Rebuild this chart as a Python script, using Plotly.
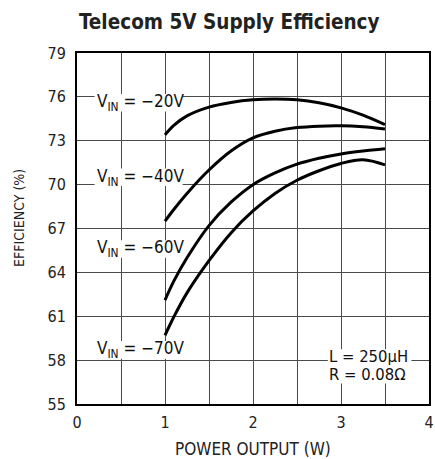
import plotly.graph_objects as go

# Data
power_w = [1.0, 1.1, 1.25, 1.5, 1.75, 2.0, 2.25, 2.5, 2.75, 3.0, 3.25, 3.5]
eff_vin_20 = [73.4, 74.05, 74.7, 75.3, 75.62, 75.8, 75.85, 75.8, 75.6, 75.25, 74.75, 74.1]
eff_vin_40 = [67.5, 68.3, 69.4, 71.0, 72.3, 73.2, 73.65, 73.9, 74.0, 74.02, 73.95, 73.8]
eff_vin_60 = [62.1, 63.4, 65.0, 67.2, 68.8, 70.0, 70.8, 71.4, 71.8, 72.1, 72.3, 72.45]
eff_vin_70 = [59.7, 60.95, 62.6, 64.8, 66.7, 68.2, 69.4, 70.3, 70.95, 71.45, 71.7, 71.35]

series = [eff_vin_20, eff_vin_40, eff_vin_60, eff_vin_70]
series_labels = ["V<sub>IN</sub> = −20V", "V<sub>IN</sub> = −40V",
                 "V<sub>IN</sub> = −60V", "V<sub>IN</sub> = −70V"]
label_y = [75.6, 70.5, 65.6, 58.7]
label_x = 0.72

note_lines = ["L = 250µH", "R = 0.08Ω"]
note_y = [58.25, 57.0]
note_x = [3.78, 3.76]

x_ticks = [0, 1, 2, 3, 4]
y_ticks = [55, 58, 61, 64, 67, 70, 73, 76, 79]

FONT = "DejaVu Sans Condensed, Liberation Sans Narrow, Liberation Sans, sans-serif"

fig = go.Figure()
for ys in series:
    fig.add_trace(go.Scatter(x=power_w, y=ys, mode="lines",
                             line=dict(color="black", width=3, shape="spline", smoothing=1.0),
                             showlegend=False, hoverinfo="skip"))

annotations = []
shapes = []
for txt, yv in zip(series_labels, label_y):
    annotations.append(dict(x=label_x, y=yv, xref="x", yref="y", text=txt, showarrow=False,
                            font=dict(family=FONT, size=17, color="#111"),
                            xanchor="center", yanchor="middle"))
    # white patch hiding the grid behind the label (drawn below the curves)
    shapes.append(dict(type="rect", xref="x", yref="y", layer="between",
                       x0=label_x - 0.52, x1=label_x + 0.48, y0=yv - 0.6, y1=yv + 0.6,
                       fillcolor="white", line=dict(width=0)))

for txt, xv, yv in zip(note_lines, note_x, note_y):
    annotations.append(dict(x=xv, y=yv, xref="x", yref="y", text=txt, showarrow=False,
                            font=dict(family=FONT, size=16.5, color="#111"),
                            xanchor="right", yanchor="middle"))
shapes.append(dict(type="rect", xref="x", yref="y", layer="between",
                   x0=2.85, x1=3.8, y0=min(note_y) - 0.6, y1=max(note_y) + 0.5,
                   fillcolor="white", line=dict(width=0)))

# Title and axis titles
annotations.append(dict(x=0.432, y=1.088, xref="paper", yref="paper",
                        text="<b>Telecom 5V Supply Efficiency</b>", showarrow=False,
                        font=dict(family=FONT, size=20.5, color="#222"),
                        xanchor="center", yanchor="middle"))
annotations.append(dict(x=0.5, y=-0.128, xref="paper", yref="paper",
                        text="POWER OUTPUT (W)", showarrow=False,
                        font=dict(family=FONT, size=17, color="#222"),
                        xanchor="center", yanchor="middle"))
annotations.append(dict(x=-0.165, y=0.53, xref="paper", yref="paper",
                        text="EFFICIENCY (%)", showarrow=False, textangle=-90,
                        font=dict(family=FONT, size=14, color="#222"),
                        xanchor="center", yanchor="middle"))

fig.update_layout(
    width=435, height=459,
    margin=dict(l=77, r=6, t=53, b=55, autoexpand=False),
    paper_bgcolor="white", plot_bgcolor="white",
    annotations=annotations, shapes=shapes,
    xaxis=dict(range=[0, 4], tickvals=x_ticks, ticktext=[str(v) for v in x_ticks],
               showgrid=True, gridcolor="#4a4a4a", gridwidth=1.2, zeroline=False,
               showline=True, linecolor="black", linewidth=2, mirror=True, automargin=False,
               ticks="", tickfont=dict(family=FONT, size=16, color="#222"), ticklabelstandoff=3,
               minor=dict(dtick=0.5, showgrid=True, gridcolor="#4a4a4a", gridwidth=1.2, ticks="")),
    yaxis=dict(range=[55, 79], tickvals=y_ticks, ticktext=[str(v) for v in y_ticks],
               showgrid=True, gridcolor="#4a4a4a", gridwidth=1.2, zeroline=False,
               showline=True, linecolor="black", linewidth=2, mirror=True, automargin=False,
               ticks="", tickfont=dict(family=FONT, size=16, color="#222"), ticklabelstandoff=6),
)

fig.write_html("out.html", config={"displayModeBar": False},
               post_script="document.body.style.margin='0';"
                           "document.documentElement.style.overflow='hidden';")
